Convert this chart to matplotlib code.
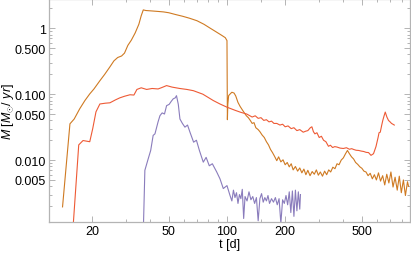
import numpy as np
import matplotlib
matplotlib.use('Agg')
import matplotlib.pyplot as plt
from matplotlib.ticker import FixedLocator, NullFormatter

plt.rcParams['font.family'] = ['Liberation Sans', 'DejaVu Sans']
plt.rcParams['mathtext.fontset'] = 'custom'
plt.rcParams['mathtext.rm'] = 'Liberation Sans'
plt.rcParams['mathtext.it'] = 'Liberation Sans:italic'

# (t [d], Mdot [Msun/yr])
naranja = [
    (14.1, 0.00195), (15.4, 0.0355), (16.2, 0.042), (17.3, 0.060), (18.4, 0.080),
    (19.5, 0.101), (20.5, 0.12), (22.0, 0.16), (23.3, 0.20), (24.8, 0.26),
    (26.0, 0.32), (27.2, 0.36), (28.5, 0.38), (29.5, 0.42), (30.7, 0.55),
    (32.0, 0.66), (33.5, 0.85), (35.0, 1.15), (36.0, 1.55), (36.9, 1.90),
    (38.0, 1.86), (41, 1.83), (44, 1.80), (47, 1.77), (50, 1.72), (54, 1.62),
    (59, 1.52), (64, 1.42), (70, 1.30), (76, 1.15), (82, 1.00), (88, 0.88),
    (94, 0.78), (98, 0.72), (100.0, 0.65), (100.5, 0.041), (101.0, 0.07),
    (102.0, 0.095), (103.6, 0.100), (106, 0.107), (108.8, 0.104), (111, 0.094),
    (114, 0.075), (117, 0.065),
    (120, 0.058), (123, 0.052), (126, 0.047), (129, 0.044), (132, 0.040),
    (135, 0.036), (138, 0.037), (141, 0.031), (145, 0.029), (148, 0.027),
    (152, 0.024), (156, 0.022), (160, 0.019), (164, 0.017), (168, 0.0145),
    (172, 0.013), (176, 0.0115), (181, 0.0098), (185, 0.0112), (190, 0.0094),
    (195, 0.0101), (200, 0.0085), (205, 0.0092), (210, 0.0079), (215, 0.0088),
    (220, 0.0071), (226, 0.0080), (232, 0.0068), (238, 0.0076), (244, 0.0064),
    (250, 0.0073), (256, 0.0060), (262, 0.0070), (269, 0.0058), (276, 0.0067),
    (283, 0.0061), (290, 0.0071), (297, 0.0059), (304, 0.0066), (312, 0.0057),
    (320, 0.0068), (328, 0.0060), (336, 0.0071), (344, 0.0066), (353, 0.0078),
    (362, 0.0074), (371, 0.0088), (380, 0.0085), (390, 0.0100), (400, 0.0108),
    (410, 0.0124), (420, 0.0140), (430, 0.0125), (441, 0.0112), (452, 0.0104),
    (463, 0.0092), (475, 0.0086), (487, 0.0079), (499, 0.0075), (511, 0.0068),
    (524, 0.0066), (537, 0.0058), (551, 0.0063), (565, 0.0052), (579, 0.0060),
    (593, 0.0050), (608, 0.0064), (623, 0.0048), (639, 0.0058), (655, 0.0042),
    (671, 0.0061), (688, 0.0045), (705, 0.0066), (723, 0.0039), (741, 0.0055),
    (760, 0.0035), (779, 0.0057), (798, 0.0032), (818, 0.0050), (838, 0.0029),
    (859, 0.0047), (870, 0.0040),
]

rojo = [
    (16.0, 0.0010), (17.1, 0.017), (18.0, 0.0198), (19.5, 0.019), (20.2, 0.030),
    (21.0, 0.054), (22.0, 0.071), (23.5, 0.073), (24.8, 0.074), (26.5, 0.082),
    (27.9, 0.088), (29.5, 0.093), (31.5, 0.098), (33.0, 0.097), (34.2, 0.118),
    (36, 0.125), (38.4, 0.118), (41, 0.122), (44, 0.120), (46, 0.126),
    (48.7, 0.135), (52, 0.128), (57, 0.122), (62, 0.118), (67, 0.113),
    (75, 0.100), (85, 0.080), (92, 0.071), (100, 0.0635), (110, 0.057),
    (118, 0.053), (126.5, 0.050), (135, 0.045), (140, 0.047), (145, 0.043),
    (150, 0.044), (155, 0.040), (160, 0.041), (165, 0.038), (170, 0.039),
    (175, 0.036), (181, 0.036), (188, 0.034), (194, 0.035), (200, 0.032),
    (207, 0.033), (215, 0.030), (222, 0.031), (230, 0.028), (238, 0.029),
    (248, 0.0265), (256, 0.0275), (262, 0.028), (270, 0.031), (275, 0.032),
    (280, 0.027), (285, 0.025), (292, 0.026), (300, 0.022), (308, 0.023),
    (316, 0.020), (325, 0.019), (335, 0.0162), (343, 0.0168), (352, 0.0155),
    (361, 0.016), (370, 0.0158), (385, 0.0152), (400, 0.0150), (415, 0.0154),
    (430, 0.0146), (442, 0.0149), (452, 0.0145), (466, 0.0141), (480, 0.0140),
    (495, 0.0137), (510, 0.0135), (525, 0.0131), (540, 0.0130), (556, 0.0118),
    (573, 0.0125), (590, 0.016), (605, 0.022), (612, 0.026), (621, 0.0265),
    (632, 0.034), (640, 0.040), (650, 0.047), (659, 0.0535), (672, 0.045),
    (685, 0.040), (698, 0.038), (710, 0.036), (722, 0.035), (734, 0.034),
]

morado = [
    (37.0, 0.0011), (37.6, 0.007), (39.1, 0.0104), (40.3, 0.014), (41.5, 0.0237),
    (42.4, 0.025), (44.0, 0.038), (45.0, 0.0472), (46.2, 0.052), (47.5, 0.050),
    (48.7, 0.067), (50.2, 0.070), (51.5, 0.078), (52.7, 0.085), (54.0, 0.088),
    (54.8, 0.095), (56.0, 0.070), (57.1, 0.042), (58.8, 0.036), (60.6, 0.0316),
    (62.5, 0.034), (64.5, 0.026), (67.2, 0.0187), (69.5, 0.020), (72.0, 0.014),
    (75.4, 0.0093), (78, 0.011), (81, 0.0082), (84, 0.0088), (88.5, 0.0066),
    (92, 0.0052), (95.7, 0.0037), (100, 0.0041), (103.7, 0.0029),
    (106, 0.0024), (108, 0.0035), (110, 0.0027), (112, 0.0032), (114, 0.0022),
    (116, 0.0030), (118, 0.0026), (120, 0.0036), (122, 0.0013), (124, 0.0028),
    (127, 0.0024), (130, 0.0033), (133, 0.0025), (136, 0.0028), (139, 0.0022),
    (142, 0.0027), (145, 0.0012), (148, 0.0026), (151, 0.0031), (154, 0.0023),
    (157, 0.0027), (160, 0.0024), (163, 0.0029), (166, 0.0022), (170, 0.0026),
    (174, 0.0023), (178, 0.0027), (182, 0.0021), (186, 0.0026), (190, 0.0011),
    (194, 0.0025), (198, 0.0022), (202, 0.0029), (206, 0.0021), (210, 0.0033),
    (214, 0.0016), (218, 0.0034), (222, 0.0014), (226, 0.0035), (230, 0.0017),
    (234, 0.0033), (238, 0.0018), (240, 0.0030),
]

series = [(naranja, '#cf7a22'), (rojo, '#ee5a35'), (morado, '#8a7cbc')]

xticks = [20, 50, 100, 200, 500]
yticks = [0.005, 0.01, 0.05, 0.1, 0.5, 1]
ylabels = ['0.005', '0.010', '0.050', '0.100', '0.500', '1']

fig = plt.figure(figsize=(4.11, 2.55), dpi=100)
ax = fig.add_axes([49 / 411, 32 / 255, 361 / 411, 223 / 255])

for datos, color in series:
    t, m = np.array(datos).T
    ax.plot(t, m, color=color, lw=0.8)

ax.set_xscale('log')
ax.set_yscale('log')
ax.set_xlim(12, 885)
ax.set_ylim(0.00115, 2.78)

ax.xaxis.set_major_locator(FixedLocator(xticks))
ax.set_xticklabels([str(x) for x in xticks])
ax.xaxis.set_minor_locator(FixedLocator([30, 40, 60, 70, 80, 90, 150, 300, 400, 600, 700, 800]))
ax.xaxis.set_minor_formatter(NullFormatter())

ax.yaxis.set_major_locator(FixedLocator(yticks))
ax.set_yticklabels(ylabels)
menores = [k * 10.0 ** e for e in (-3, -2, -1, 0) for k in range(2, 10)]
menores = [v for v in menores if v not in yticks]
ax.yaxis.set_minor_locator(FixedLocator(menores))
ax.yaxis.set_minor_formatter(NullFormatter())

gris = '#b4b4b4'
for s in ax.spines.values():
    s.set_color(gris)
    s.set_linewidth(0.9)
ax.tick_params(which='both', direction='in', top=True, right=True, color=gris,
               labelsize=9, pad=2, width=0.7)
ax.tick_params(which='major', length=4)
ax.tick_params(which='minor', length=2)

ax.set_xlabel('t [d]', fontsize=9, labelpad=1)
ax.set_ylabel(r'$\dot{M}\ [M_{\odot}/\ yr]$', fontsize=9)
ax.yaxis.set_label_coords(-0.088, 0.5)

fig.savefig('out.png', dpi=100)
